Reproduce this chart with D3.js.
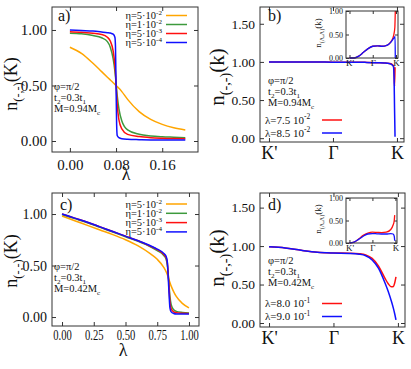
<!DOCTYPE html>
<meta charset="utf-8">
<head>
  <style>
    body { margin: 0; background: #fff; }
    text { font-family: "Liberation Serif", "DejaVu Serif", serif; fill: #111; }
  </style>
  <script src="https://cdn.jsdelivr.net/npm/d3@7"></script>
</head>
<body>
<script>
// ---- data ----
// a) n(-,-)(K) vs lambda, M=0.94Mc
const lamA = [0, 0.02, 0.04, 0.055, 0.065, 0.07, 0.075, 0.078, 0.079, 0.08, 0.081, 0.082, 0.085, 0.09, 0.1, 0.12, 0.14, 0.16, 0.18, 0.2];
const aEta1 = [0.845, 0.79, 0.70, 0.625, 0.575, 0.55, 0.525, 0.51, 0.505, 0.50, 0.495, 0.49, 0.475, 0.445, 0.375, 0.265, 0.195, 0.15, 0.12, 0.10];
const aEta2 = [0.97, 0.965, 0.95, 0.93, 0.895, 0.845, 0.74, 0.63, 0.58, 0.52, 0.46, 0.41, 0.29, 0.18, 0.1, 0.06, 0.045, 0.038, 0.034, 0.03];
const aEta3 = [0.985, 0.98, 0.97, 0.96, 0.935, 0.9, 0.81, 0.68, 0.61, 0.52, 0.42, 0.33, 0.19, 0.11, 0.06, 0.04, 0.03, 0.025, 0.022, 0.02];
const aEta4 = [1.0, 0.995, 0.99, 0.982, 0.976, 0.972, 0.962, 0.935, 0.85, 0.5, 0.15, 0.05, 0.03, 0.02, 0.015, 0.012, 0.01, 0.01, 0.01, 0.01];

// c) n(-,-)(K) vs lambda, M=0.42Mc
const lamC = [0, 0.1, 0.2, 0.3, 0.4, 0.5, 0.6, 0.7, 0.75, 0.8, 0.82, 0.83, 0.84, 0.85, 0.86, 0.88, 0.9, 0.95, 1.0];
const cEta1 = [0.98, 0.935, 0.89, 0.845, 0.8, 0.75, 0.69, 0.61, 0.56, 0.485, 0.44, 0.41, 0.37, 0.335, 0.3, 0.245, 0.2, 0.13, 0.088];
const cEta2 = [0.995, 0.955, 0.915, 0.87, 0.825, 0.78, 0.735, 0.68, 0.645, 0.6, 0.56, 0.5, 0.36, 0.2, 0.12, 0.07, 0.055, 0.045, 0.04];
const cEta3 = [1.0, 0.96, 0.92, 0.875, 0.83, 0.785, 0.74, 0.685, 0.655, 0.61, 0.575, 0.52, 0.35, 0.15, 0.08, 0.05, 0.042, 0.036, 0.034];
const cEta4 = [1.0, 0.96, 0.92, 0.875, 0.83, 0.785, 0.74, 0.69, 0.66, 0.62, 0.59, 0.53, 0.3, 0.09, 0.05, 0.035, 0.03, 0.03, 0.03];

// b) n(-,-)(k) along K'-Gamma-K (0 = K', 1 = Gamma, 2 = K)
const kB = [0, 0.25, 0.5, 0.75, 1, 1.25, 1.5, 1.7, 1.8, 1.88, 1.92, 1.945, 1.955, 1.962, 1.97];
const bRed = [1.0, 1.0, 1.0, 0.998, 0.997, 0.996, 0.994, 0.99, 0.987, 0.98, 0.97, 0.95, 0.85, 0.68, 0.93];
const bBlue = [1.0, 1.0, 1.0, 0.998, 0.997, 0.996, 0.994, 0.99, 0.986, 0.978, 0.965, 0.94, 0.8, 0.4, 0.02];
const kBi = [0, 0.2, 0.4, 0.6, 0.8, 1.0, 1.2, 1.4, 1.6, 1.7, 1.8, 1.9, 1.95, 1.96, 1.97];
const bInRed = [0, 0.0, 0.04, 0.12, 0.2, 0.25, 0.26, 0.25, 0.27, 0.3, 0.36, 0.48, 0.65, 0.8, 1.0];
const bInBlue = [0, 0.0, 0.04, 0.12, 0.2, 0.25, 0.26, 0.25, 0.27, 0.3, 0.35, 0.42, 0.45, 0.46, 0.0];

// d)
const kD = [0, 0.25, 0.5, 0.75, 1, 1.25, 1.4, 1.5, 1.6, 1.7, 1.8, 1.85, 1.9, 1.93, 1.95, 1.97];
const dRed = [0.99, 0.975, 0.945, 0.92, 0.91, 0.907, 0.9, 0.885, 0.84, 0.74, 0.58, 0.51, 0.47, 0.475, 0.52, 0.6];
const dBlue = [0.99, 0.975, 0.945, 0.92, 0.91, 0.905, 0.895, 0.875, 0.82, 0.71, 0.52, 0.41, 0.28, 0.19, 0.12, 0.04];
const kDi = [0, 0.2, 0.4, 0.6, 0.8, 1.0, 1.2, 1.4, 1.6, 1.8, 1.9, 1.95, 1.97];
const dInRed = [0, 0.02, 0.09, 0.17, 0.22, 0.24, 0.235, 0.23, 0.24, 0.3, 0.4, 0.5, 0.62];
const dInBlue = [0, 0.02, 0.08, 0.15, 0.2, 0.21, 0.205, 0.2, 0.2, 0.21, 0.2, 0.15, 0.05];

const etaLabels = [["η=5·10", "-2"], ["η=1·10", "-2"], ["η=5·10", "-3"], ["η=5·10", "-4"]];
const etaColors = ["#ffa500", "#3d9a3d", "#ff1010", "#1010ff"];
const kTicks = [0, 1, 2];
const kNames = ["K'", "Γ", "K"];

const svg = d3.select("body").append("svg")
  .attr("width", 411)
  .attr("height", 369);

// text with sub/superscript pieces: [[str, ""|"sub"|"sup"], ...]
function rich(sel, parts, size) {
  let cur = 0;
  parts.forEach(function(p) {
    const off = p[1] == "sub" ? size * 0.28 : p[1] == "sup" ? -size * 0.38 : 0;
    sel.append("tspan")
      .attr("dy", off - cur)
      .attr("font-size", p[1] ? size * 0.68 : size)
      .text(p[0]);
    cur = off;
  });
  return sel;
}

function panel(o) {
  const x = d3.scaleLinear().domain(o.xd).range([o.l, o.r]);
  const y = d3.scaleLinear().domain(o.yd).range([o.b, o.t]);
  const g = svg.append("g");
  const ts = o.ts || 4;

  if (o.bg) g.append("rect").attr("x", o.l).attr("y", o.t)
    .attr("width", o.r - o.l).attr("height", o.b - o.t).attr("fill", "#fff");

  const xb = g.append("g").attr("transform", "translate(0," + o.b + ")")
    .call(d3.axisBottom(x).tickValues(o.xt).tickFormat(o.xf).tickSize(-ts).tickPadding(o.xpad));
  const yl = g.append("g").attr("transform", "translate(" + o.l + ",0)")
    .call(d3.axisLeft(y).tickValues(o.yt).tickFormat(d3.format(".2f")).tickSize(-ts).tickPadding(o.ypad));
  g.append("g").attr("transform", "translate(0," + o.t + ")")
    .call(d3.axisTop(x).tickValues(o.xt).tickFormat("").tickSize(-ts));
  g.append("g").attr("transform", "translate(" + o.r + ",0)")
    .call(d3.axisRight(y).tickValues(o.yt).tickFormat("").tickSize(-ts));
  g.selectAll(".domain").remove();
  g.selectAll(".tick line").attr("stroke", "#333");
  xb.selectAll("text").attr("font-size", o.xfs).attr("fill", "#111");
  if (o.xlen) xb.selectAll("text").attr("textLength", o.xlen).attr("lengthAdjust", "spacingAndGlyphs");
  yl.selectAll("text").attr("font-size", o.yfs).attr("fill", "#111");
  g.selectAll("text").attr("font-family", null);

  const line = d3.line()
    .x(d => x(d[0]))
    .y(d => y(d[1]))
    .curve(d3.curveMonotoneX);
  o.series.forEach(function(s) {
    g.append("path")
      .attr("d", line(d3.zip(s.x, s.y)))
      .attr("fill", "none")
      .attr("stroke", s.c)
      .attr("stroke-width", o.lw || 1.5);
  });

  g.append("rect").attr("x", o.l).attr("y", o.t)
    .attr("width", o.r - o.l).attr("height", o.b - o.t)
    .attr("fill", "none").attr("stroke", "#333").attr("stroke-width", 1);
  return g;
}

const f2 = d3.format(".2f");
const kf = (d, i) => kNames[i];

// ---- a) ----
panel({l: 52, r: 198, t: 7, b: 152, xd: [-0.031, 0.222], yd: [-0.099, 1.207],
  xt: [0, 0.08, 0.16], xf: f2, yt: [0, 0.5, 1], xfs: 15, yfs: 15, xpad: 7, ypad: 5,
  series: [aEta1, aEta2, aEta3, aEta4].map((v, i) => ({x: lamA, y: v, c: etaColors[i]}))});

// ---- c) ----
panel({l: 52, r: 199, t: 193, b: 326, xd: [-0.079, 1.079], yd: [-0.087, 1.204],
  xt: [0, 0.25, 0.5, 0.75, 1], xf: f2, yt: [0, 0.5, 1], xfs: 14, yfs: 14, xlen: 18.5, xpad: 4, ypad: 5,
  series: [cEta1, cEta2, cEta3, cEta4].map((v, i) => ({x: lamC, y: v, c: etaColors[i]}))});

// ---- b) ----
panel({l: 260, r: 404, t: 7, b: 142, xd: [-0.14, 2.11], yd: [-0.05, 1.72],
  xt: kTicks, xf: kf, yt: [0, 0.5, 1, 1.5], xfs: 18, yfs: 13.5, xpad: 4, ypad: 5,
  series: [{x: kB, y: bRed, c: etaColors[2]}, {x: kB, y: bBlue, c: etaColors[3]}]});
panel({l: 346, r: 398, t: 11, b: 58, xd: [-0.15, 2.086], yd: [0, 1], bg: true, ts: 3, lw: 1.3,
  xt: kTicks, xf: kf, yt: [0, 0.5, 1], xfs: 9, yfs: 8, xpad: 2, ypad: 3,
  series: [{x: kBi, y: bInRed, c: etaColors[2]}, {x: kBi, y: bInBlue, c: etaColors[3]}]});

// ---- d) ----
panel({l: 260, r: 405, t: 193, b: 327, xd: [-0.14, 2.11], yd: [-0.052, 1.69],
  xt: kTicks, xf: kf, yt: [0, 0.5, 1, 1.5], xfs: 18, yfs: 13.5, xpad: 4, ypad: 5,
  series: [{x: kD, y: dRed, c: etaColors[2]}, {x: kD, y: dBlue, c: etaColors[3]}]});
panel({l: 346, r: 397, t: 198, b: 243, xd: [-0.15, 2.07], yd: [0, 1], bg: true, ts: 3, lw: 1.3,
  xt: kTicks, xf: kf, yt: [0, 0.5, 1], xfs: 9, yfs: 8, xpad: 2, ypad: 3,
  series: [{x: kDi, y: dInRed, c: etaColors[2]}, {x: kDi, y: dInBlue, c: etaColors[3]}]});

// ---- labels ----
function ytitle(x, y, size, kk) {
  rich(svg.append("text").attr("transform", "translate(" + x + "," + y + ") rotate(-90)")
    .attr("text-anchor", "middle"), [["n", ""], ["(-,-)", "sub"], ["(" + kk + ")", ""]], size);
}
ytitle(17, 84, 18, "K");
ytitle(17, 261, 18, "K");
ytitle(224, 77, 21, "k");
ytitle(224, 258, 21, "k");
rich(svg.append("text").attr("transform", "translate(321,33) rotate(-90)").attr("text-anchor", "middle"),
  [["n", ""], ["(Λ,Λ)", "sub"], ["(k)", ""]], 9);
rich(svg.append("text").attr("transform", "translate(321,219) rotate(-90)").attr("text-anchor", "middle"),
  [["n", ""], ["(Λ,Λ)", "sub"], ["(k)", ""]], 9);

svg.append("text").attr("x", 126).attr("y", 180).attr("text-anchor", "middle").attr("font-size", 18).text("λ");
svg.append("text").attr("x", 123).attr("y", 356).attr("text-anchor", "middle").attr("font-size", 18).text("λ");

[["a)", 58, 21], ["b)", 268, 21], ["c)", 60, 210], ["d)", 268, 210]].forEach(function(p) {
  svg.append("text").attr("x", p[1]).attr("y", p[2]).attr("font-size", 16).text(p[0]);
});

function params(x, y0, mass) {
  const rows = [[["φ=π/2", ""]], [["t", ""], ["2", "sub"], ["=0.3t", ""], ["1", "sub"]],
    [["M=" + mass + "M", ""], ["c", "sub"]]];
  rows.forEach(function(r, i) {
    rich(svg.append("text").attr("x", x).attr("y", y0 + i * 10.8), r, 10.5);
  });
}
params(54, 90, "0.94");
params(54, 270, "0.42");
params(268, 84, "0.94");
params(268, 264, "0.42");

function etaLegend(xr, y0, dy) {
  etaLabels.forEach(function(l, i) {
    const yy = y0 + i * dy;
    rich(svg.append("text").attr("x", xr).attr("y", yy + 3.5).attr("text-anchor", "end"),
      [[l[0], ""], [l[1], "sup"]], 10.5);
    svg.append("line").attr("x1", xr + 4).attr("x2", xr + 25).attr("y1", yy).attr("y2", yy)
      .attr("stroke", etaColors[i]).attr("stroke-width", 1.5);
  });
}
etaLegend(162, 15.5, 9);
etaLegend(162, 204, 9.3);

function lamLegend(y0, labels) {
  labels.forEach(function(l, i) {
    const yy = y0 + i * 13;
    rich(svg.append("text").attr("x", 265).attr("y", yy + 3.5), [[l[0], ""], [l[1], "sup"]], 11);
    svg.append("line").attr("x1", 322).attr("x2", 342).attr("y1", yy).attr("y2", yy)
      .attr("stroke", etaColors[2 + i]).attr("stroke-width", 1.5);
  });
}
lamLegend(120, [["λ=7.5 10", "-2"], ["λ=8.5 10", "-2"]]);
lamLegend(303.5, [["λ=8.0 10", "-1"], ["λ=9.0 10", "-1"]]);
</script>
</body>
</html>
